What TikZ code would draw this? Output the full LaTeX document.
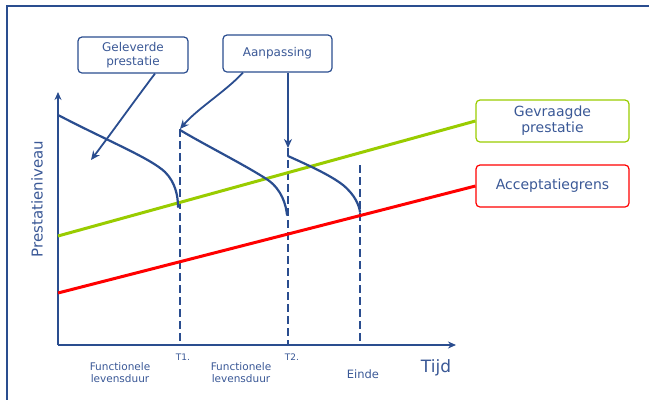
\documentclass[tikz,border=0pt]{standalone}
\usepackage{fontspec}
\setmainfont{DejaVu Sans}
\usetikzlibrary{arrows.meta}
\definecolor{navy}{RGB}{42,77,143}
\definecolor{txt}{RGB}{58,88,150}
\definecolor{lime}{RGB}{153,204,0}
\definecolor{alarm}{RGB}{255,0,0}
\begin{document}
\begin{tikzpicture}[x=1pt,y=-1pt,
  frameline/.style={navy,line width=2pt},
  axis/.style={navy,line width=2.8pt,-{Stealth[length=8pt,width=7pt]}},
  curve/.style={navy,line width=2.2pt,line cap=round},
  mark line/.style={navy,line width=2.8pt,dash pattern=on 8pt off 4pt},
  callout/.style={navy,line width=1.8pt,-{Stealth[length=9pt,width=8pt]}},
  box/.style={draw,rounded corners=4pt,line width=1.2pt,text=txt,align=center,inner sep=0pt},
  lbl/.style={text=txt,align=center,inner sep=0pt,font=\fontsize{10.5}{12}\selectfont}]
\useasboundingbox (0,0) rectangle (649,400);
% frame
\draw[frameline] (6,6) -- (649,6);
\draw[frameline] (7,6) -- (7,400);
% axes
\coordinate (o) at (58,345);
\coordinate (ytop) at (58,92);
\coordinate (xend) at (456,345);
\draw[axis] (o) -- (ytop);
\draw[axis] (o) -- (xend);
% time markers
\coordinate (t1top) at (180,129);
\coordinate (t1) at (180,345);
\coordinate (t2top) at (288,148);
\coordinate (t2) at (288,345);
\coordinate (t3top) at (360,165);
\coordinate (t3) at (360,345);
\draw[mark line] (t1top) -- (t1);
\draw[mark line] (t2top) -- (t2);
\draw[mark line] (t3top) -- (t3);
% required and acceptance levels
\node[box,draw=lime,minimum width=153pt,minimum height=42pt,font=\fontsize{14}{16}\selectfont] (req) at (552.5,121) {Gevraagde\\prestatie};
\node[box,draw=alarm,minimum width=153pt,minimum height=42pt,font=\fontsize{14}{16}\selectfont] (acc) at (552.5,186) {Acceptatiegrens};
\coordinate (req0) at (58,236);
\coordinate (acc0) at (58,293);
\draw[lime,line width=3pt] (req0) -- (req.west);
\draw[alarm,line width=3pt] (acc0) -- (acc.west);
% delivered performance, three life cycles
\draw[curve] (58,115) .. controls (110,142) and (150,158) .. (165,172)
  .. controls (175,182) and (178,195) .. (178,207);
\draw[curve] (180,130) .. controls (205,145) and (245,165) .. (268,180)
  .. controls (282,190) and (286,205) .. (287,215);
\draw[curve] (288,156) .. controls (310,166) and (330,175) .. (343,185)
  .. controls (355,195) and (359,205) .. (360,212);
% callouts
\node[box,draw=navy,minimum width=110pt,minimum height=36pt,font=\fontsize{12}{13.5}\selectfont] (del) at (133,55) {Geleverde\\prestatie};
\node[box,draw=navy,minimum width=109pt,minimum height=37pt,font=\fontsize{12}{13.5}\selectfont] (adj) at (277.5,53.5) {Aanpassing};
\coordinate (delTip) at (91,160);
\draw[callout] (del.south -| 155,0) .. controls (135,100) and (110,135) .. (delTip);
\draw[callout] (adj.south -| 243,0) .. controls (225,92) and (198,108) .. (t1top);
\draw[callout] (adj.south -| 288,0) -- (t2top);
% labels
\node[text=txt,rotate=90,inner sep=0pt,font=\fontsize{15}{17}\selectfont] (ylab) at (37,199) {Prestatieniveau};
\node[text=txt,inner sep=0pt,font=\fontsize{17}{19}\selectfont] (xlab) at (436,368) {Tijd};
\node[text=txt,inner sep=0pt,font=\fontsize{9}{10}\selectfont] (lt1) at (183,357) {T1.};
\node[text=txt,inner sep=0pt,font=\fontsize{9}{10}\selectfont] (lt2) at (292,357) {T2.};
\node[lbl] (f1) at (120,373) {Functionele\\levensduur};
\node[lbl] (f2) at (241,373) {Functionele\\levensduur};
\node[lbl,font=\fontsize{11.5}{13}\selectfont] (end) at (363,374) {Einde};
\end{tikzpicture}
\end{document}
